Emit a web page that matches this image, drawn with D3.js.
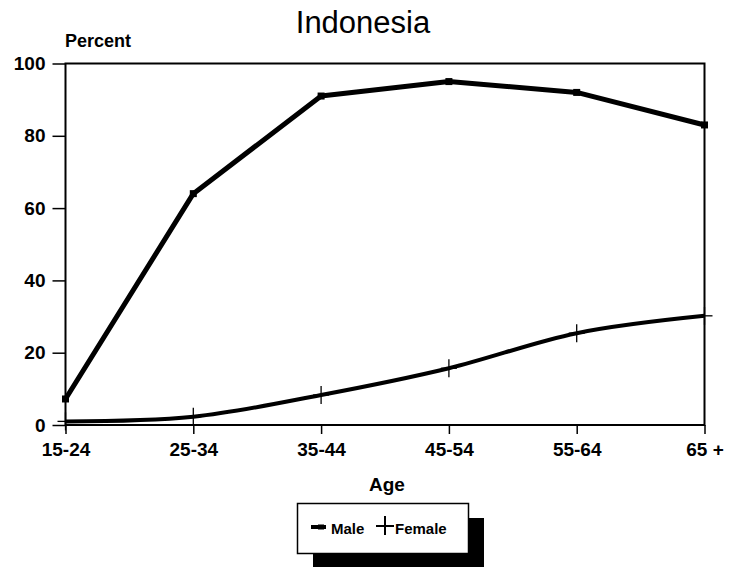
<!DOCTYPE html>
<html><head><meta charset="utf-8">
<script src="https://cdn.jsdelivr.net/npm/d3@7"></script>
<style>body{margin:0;background:#fff}svg{display:block}text{font-family:"Liberation Sans",Arial,sans-serif}</style>
</head><body>
<script>
const ages = ["15-24","25-34","35-44","45-54","55-64","65 +"];
const male = [7.2, 64, 91, 95, 92, 83];
const female = [1, 2.3, 8.3, 15.7, 25.4, 30.2];
const yTicks = [0, 20, 40, 60, 80, 100];

const W = 741, H = 567;
const FF = '"Liberation Sans",Arial,sans-serif';
const svg = d3.select("body").append("svg").attr("width", W).attr("height", H);
const x = d3.scalePoint().domain(ages).range([65.5, 704.5]);
const y = d3.scaleLinear().domain([0, 100]).range([425, 63.5]);

svg.append("text").attr("x", 363).attr("y", 33).attr("text-anchor", "middle")
  .attr("font-size", 31).text("Indonesia");
svg.append("text").attr("x", 65).attr("y", 47).attr("font-size", 18).attr("font-weight", "bold").text("Percent");

// frame
svg.append("rect").attr("x", 65.5).attr("y", 63.5).attr("width", 639).attr("height", 361.5)
  .attr("fill", "none").attr("stroke", "#000").attr("stroke-width", 2);

const ya = svg.append("g").attr("transform", "translate(65.5,0)")
  .call(d3.axisLeft(y).tickValues(yTicks).tickSize(13).tickPadding(7));
ya.select(".domain").remove();
ya.selectAll("line").attr("stroke-width", 1.5);
ya.selectAll("text").attr("font-size", 19).attr("font-weight", "bold").attr("font-family", FF);

const xa = svg.append("g").attr("transform", "translate(0,425)")
  .call(d3.axisBottom(x).tickSize(9).tickPadding(9));
xa.select(".domain").remove();
xa.selectAll("line").attr("stroke-width", 1.5);
xa.selectAll("text").attr("font-size", 19).attr("font-weight", "bold").attr("font-family", FF);

svg.append("text").attr("x", 387).attr("y", 491).attr("text-anchor", "middle")
  .attr("font-size", 19).attr("font-weight", "bold").text("Age");

// lines
svg.append("path").datum(female).attr("fill", "none").attr("stroke", "#000").attr("stroke-width", 4)
  .attr("stroke-linejoin", "round")
  .attr("d", d3.line().x((d, i) => x(ages[i])).y(d => y(d)).curve(d3.curveCatmullRom.alpha(0.5)));
svg.append("path").datum(male).attr("fill", "none").attr("stroke", "#000").attr("stroke-width", 5)
  .attr("stroke-linejoin", "round")
  .attr("d", d3.line().x((d, i) => x(ages[i])).y(d => y(d)));

// markers
svg.selectAll(".mm").data(male).enter().append("rect")
  .attr("x", (d, i) => x(ages[i]) - 3.5).attr("y", d => y(d) - 3.5)
  .attr("width", 7).attr("height", 7).attr("fill", "#000");
const fm = svg.selectAll(".fm").data(female).enter().append("g")
  .attr("transform", (d, i) => `translate(${x(ages[i])},${y(d)})`);
fm.append("line").attr("y1", -9).attr("y2", 9).attr("stroke", "#000").attr("stroke-width", 1.3);
fm.append("line").attr("x1", -8).attr("x2", 8).attr("stroke", "#000").attr("stroke-width", 1.3);

// legend
svg.append("rect").attr("x", 313).attr("y", 518).attr("width", 171).attr("height", 50).attr("fill", "#000");
svg.append("rect").attr("x", 297.5).attr("y", 503.5).attr("width", 171).attr("height", 50)
  .attr("fill", "#fff").attr("stroke", "#000").attr("stroke-width", 1.5);
svg.append("line").attr("x1", 311).attr("x2", 326).attr("y1", 527).attr("y2", 527).attr("stroke", "#000").attr("stroke-width", 4);
svg.append("rect").attr("x", 318).attr("y", 524.5).attr("width", 6).attr("height", 5).attr("fill", "#000");
svg.append("text").attr("x", 331).attr("y", 534).attr("font-size", 15).attr("font-weight", "bold").text("Male");
svg.append("line").attr("x1", 376).attr("x2", 394).attr("y1", 526).attr("y2", 526).attr("stroke", "#000").attr("stroke-width", 2);
svg.append("line").attr("x1", 385).attr("x2", 385).attr("y1", 516).attr("y2", 535).attr("stroke", "#000").attr("stroke-width", 2);
svg.append("text").attr("x", 395).attr("y", 534).attr("font-size", 15).attr("font-weight", "bold").text("Female");
</script>
</body></html>
